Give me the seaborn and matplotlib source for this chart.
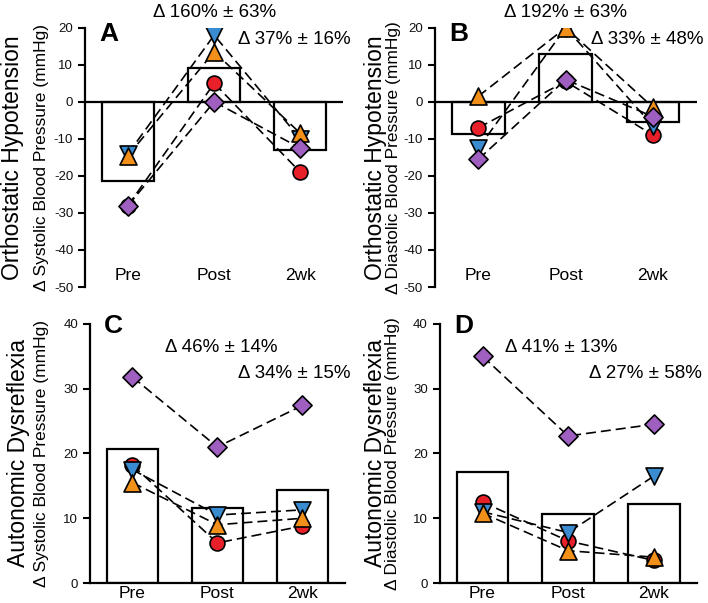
import numpy as np
import pandas as pd
import matplotlib
matplotlib.use("Agg")
import matplotlib.pyplot as plt
import seaborn as sns

# ──────────────────────────────────────────
# DATA
# ──────────────────────────────────────────
timepoints = ["Pre", "Post", "2wk"]
subjects = ["red", "blue", "orange", "purple"]

# A — OH, systolic
a_bar = [-21.3, 9.2, -13.0]
a_red = [-28.0, 5.0, -19.0]
a_blue = [-14.0, 18.0, -10.0]
a_orange = [-14.5, 13.5, -8.5]
a_purple = [-28.0, 0.0, -12.5]

# B — OH, diastolic
b_bar = [-8.7, 12.8, -5.4]
b_red = [-7.0, 5.5, -9.0]
b_blue = [-12.5, 20.0, -6.5]
b_orange = [1.5, 20.0, -1.5]
b_purple = [-15.5, 6.0, -4.0]

# C — AD, systolic
c_bar = [20.7, 11.6, 14.3]
c_red = [18.2, 6.2, 8.8]
c_blue = [17.5, 10.5, 11.3]
c_orange = [15.5, 9.0, 10.0]
c_purple = [31.8, 21.0, 27.4]

# D — AD, diastolic
d_bar = [17.1, 10.6, 12.2]
d_red = [12.5, 6.5, 3.5]
d_blue = [11.0, 7.8, 16.5]
d_orange = [10.8, 5.0, 4.0]
d_purple = [35.0, 22.7, 24.5]

a_notes = ["\u0394 160% \u00b1 63%", "\u0394 37% \u00b1 16%"]
b_notes = ["\u0394 192% \u00b1 63%", "\u0394 33% \u00b1 48%"]
c_notes = ["\u0394 46% \u00b1 14%", "\u0394 34% \u00b1 15%"]
d_notes = ["\u0394 41% \u00b1 13%", "\u0394 27% \u00b1 58%"]

# ──────────────────────────────────────────
# STYLE
# ──────────────────────────────────────────
sns.set_theme(style="ticks")
plt.rcParams["font.family"] = ["Liberation Sans", "DejaVu Sans"]
plt.rcParams["axes.unicode_minus"] = False
plt.rcParams["text.color"] = "black"
plt.rcParams["axes.edgecolor"] = "black"
plt.rcParams["xtick.color"] = "black"
plt.rcParams["ytick.color"] = "black"

marker_style = {
    "red":    dict(marker="o", color="#e8202a", s=115, z=4),
    "blue":   dict(marker="v", color="#3b8bd0", s=150, z=5),
    "orange": dict(marker="^", color="#f39019", s=150, z=6),
    "purple": dict(marker="D", color="#9e5fc0", s=95,  z=7),
}

fig = plt.figure(figsize=(7.08, 6.03), dpi=100)
ax_a = fig.add_axes([0.120, 0.524, 0.365, 0.430])
ax_b = fig.add_axes([0.614, 0.524, 0.370, 0.430])
ax_c = fig.add_axes([0.127, 0.033, 0.360, 0.430])
ax_d = fig.add_axes([0.621, 0.033, 0.363, 0.430])

panels = [
    (ax_a, "A", a_bar, [a_red, a_blue, a_orange, a_purple], a_notes,
     "Orthostatic Hypotension", "\u0394 Systolic Blood Pressure (mmHg)", True),
    (ax_b, "B", b_bar, [b_red, b_blue, b_orange, b_purple], b_notes,
     "Orthostatic Hypotension", "\u0394 Diastolic Blood Pressure (mmHg)", True),
    (ax_c, "C", c_bar, [c_red, c_blue, c_orange, c_purple], c_notes,
     "Autonomic Dysreflexia", "\u0394 Systolic Blood Pressure (mmHg)", False),
    (ax_d, "D", d_bar, [d_red, d_blue, d_orange, d_purple], d_notes,
     "Autonomic Dysreflexia", "\u0394 Diastolic Blood Pressure (mmHg)", False),
]

label_x = {"A": (0.018, 0.059), "B": (0.531, 0.556),
           "C": (0.026, 0.059), "D": (0.530, 0.555)}

xpos = np.arange(len(timepoints))

for ax, letter, bars, subj_vals, notes, title, sub, oh in panels:
    sns.barplot(x=xpos, y=bars, ax=ax, color="white", edgecolor="black",
                linewidth=1.6, width=0.6, native_scale=True, zorder=1)
    for b in ax.patches:
        b.set_facecolor("white")

    # dashed subject lines first, then markers on top
    for vals in subj_vals:
        sns.lineplot(x=xpos, y=vals, ax=ax, color="black", linewidth=1.2,
                     linestyle=(0, (6, 3)), zorder=3, legend=False)
    for name, vals in zip(subjects, subj_vals):
        st = marker_style[name]
        sns.scatterplot(x=xpos, y=vals, ax=ax, marker=st["marker"],
                        color=st["color"], s=st["s"], edgecolor="black",
                        linewidth=1.2, zorder=st["z"], legend=False)

    ax.set_xlim(-0.5, 2.5)
    ax.set_xticks(xpos)
    ax.set_xticklabels(timepoints, fontsize=12.5)
    sns.despine(ax=ax)
    ax.spines["left"].set_linewidth(1.6)
    ax.tick_params(axis="y", length=5, width=1.5, labelsize=9.5,
                   labelcolor="#111111")

    if oh:
        ax.set_ylim(-50, 20)
        ax.set_yticks(np.arange(-50, 21, 10))
        ax.spines["bottom"].set_visible(False)
        ax.axhline(0, color="black", linewidth=1.6, zorder=2)
        ax.tick_params(axis="x", length=0, pad=-14)
        ax.text(-0.22, 18.3, letter, fontsize=19, fontweight="bold",
                ha="center", va="center")
        ax.text(1.0, 24.2, notes[0], fontsize=13.5, ha="center", va="center")
        ax.text(1.93, 16.9, notes[1], fontsize=13.5, ha="center", va="center")
    else:
        ax.set_ylim(0, 40)
        ax.set_yticks(np.arange(0, 41, 10))
        ax.spines["bottom"].set_linewidth(1.6)
        ax.tick_params(axis="x", length=0, pad=2)
        ax.text(-0.22, 39.6, letter, fontsize=19, fontweight="bold",
                ha="center", va="center")
        nx = 1.04 if letter == "C" else 0.92
        ax.text(nx, 36.4, notes[0], fontsize=13.5, ha="center", va="center")
        ax.text(1.9, 32.4, notes[1], fontsize=13.5, ha="center", va="center")

    ax.set_ylabel("")
    ax.set_xlabel("")
    pos = ax.get_position()
    cy = pos.y0 + pos.height / 2
    x1, x2 = label_x[letter]
    fig.text(x1, cy, title, rotation=90, fontsize=16.5, ha="center", va="center")
    fig.text(x2, cy, sub, rotation=90, fontsize=12.5, ha="center", va="center")

fig.savefig("out.png", dpi=100)
